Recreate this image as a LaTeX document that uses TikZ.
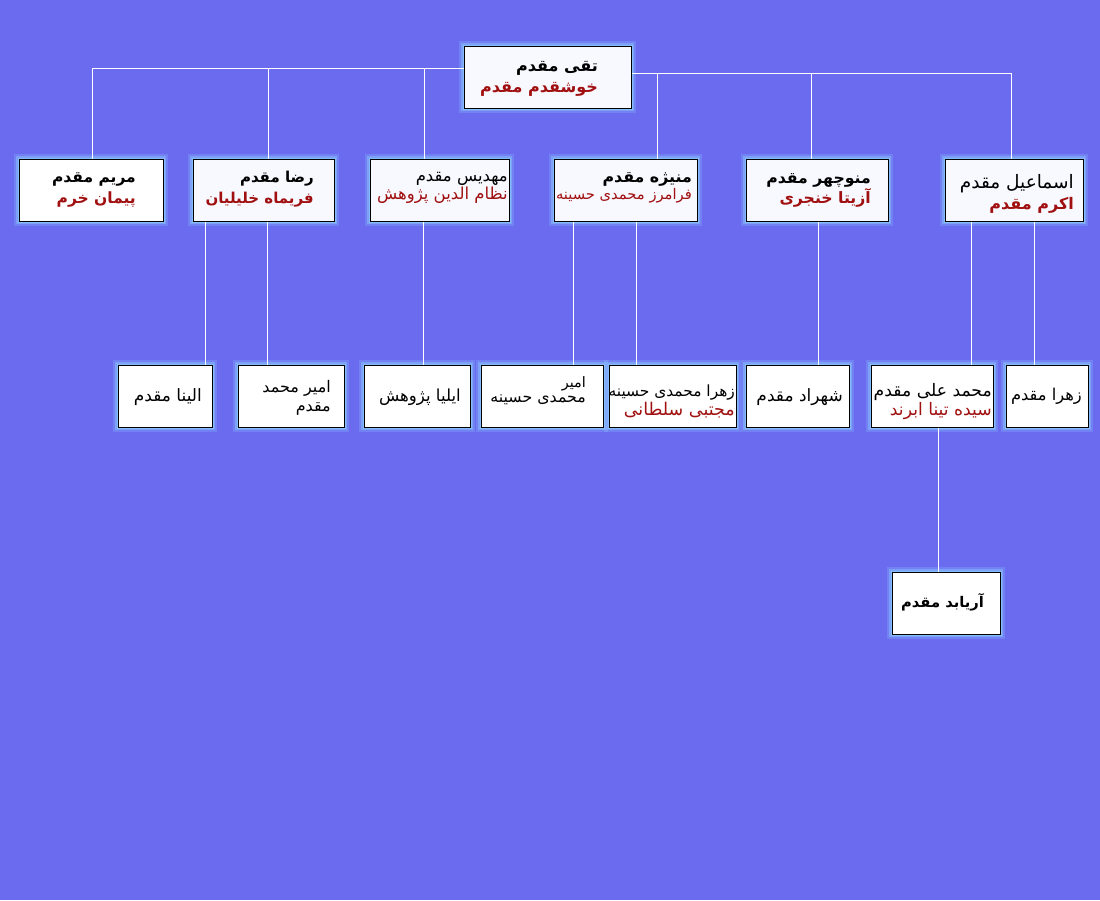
\documentclass[tikz,border=0pt]{standalone}
\usepackage{fontspec}
\TeXXeTstate=1
\newfontfamily\arabicfont[Script=Arabic]{DejaVu Sans}
\definecolor{bg}{RGB}{107,107,240}
\definecolor{ghost}{RGB}{248,248,255}
\definecolor{namered}{RGB}{160,16,16}
\definecolor{glowc}{RGB}{140,200,255}
\newcommand\ar[1]{\beginR #1\endR}
\newcommand\fs[2]{\fontsize{#1}{#2}\selectfont}
\newcommand\pb[6]{\node[pbox=#6, minimum width={#4-#2}, minimum height={#5-#3}] (#1) at ({(#2+#4)/2},{(#3+#5)/2}) {};}
\tikzset{
  pbox/.style={draw=black, line width=1pt, fill=#1, inner sep=0pt,
    preaction={draw=glowc, line width=10pt, opacity=.25},
    preaction={draw=glowc, line width=6pt, opacity=.45},
    preaction={draw=glowc, line width=3pt, opacity=.7}},
  txt/.style={anchor=east, inner sep=0pt, align=right, text=black},
  conn/.style={draw=white, line width=0.8pt},
}
\begin{document}
\begin{tikzpicture}[x=1pt,y=-1pt]
\fill[bg] (0,0) rectangle (1100,900);
\useasboundingbox (0,0) rectangle (1100,900);
% boxes
\pb{root}{464}{46}{631}{108}{ghost}
\pb{maryam}{19}{159}{163}{221}{white}
\pb{reza}{193}{159}{334}{221}{ghost}
\pb{mahdis}{370}{159}{509}{221}{ghost}
\pb{manijeh}{554}{159}{697}{221}{ghost}
\pb{manoo}{746}{159}{888}{221}{ghost}
\pb{esmail}{945}{159}{1083}{221}{ghost}
\pb{elina}{118}{365}{212}{427}{white}
\pb{amirm}{238}{365}{344}{427}{white}
\pb{ilya}{364}{365}{470}{427}{white}
\pb{amirh}{481}{365}{603}{427}{white}
\pb{zahrah}{609}{365}{736}{427}{white}
\pb{shahrad}{746}{365}{849}{427}{white}
\pb{mali}{871}{365}{993}{427}{white}
\pb{zahram}{1006}{365}{1088}{427}{white}
\pb{ariabod}{892}{572}{1000}{634}{white}
% connectors
\draw[conn] ([yshift=9pt]root.west) coordinate (rl) -| ([xshift=74pt]maryam.north west);
\draw[conn] ([xshift=76pt]reza.north west) -- ([xshift=76pt]reza.north west |- rl);
\draw[conn] ([xshift=55pt]mahdis.north west) -- ([xshift=55pt]mahdis.north west |- rl);
\draw[conn] ([yshift=4pt]root.east) coordinate (rr) -| ([xshift=67pt]esmail.north west);
\draw[conn] ([xshift=104pt]manijeh.north west) -- ([xshift=104pt]manijeh.north west |- rr);
\draw[conn] ([xshift=66pt]manoo.north west) -- ([xshift=66pt]manoo.north west |- rr);
\draw[conn] ([xshift=13pt]reza.south west) -- ([xshift=13pt]reza.south west |- elina.north);
\draw[conn] ([xshift=75pt]reza.south west) -- ([xshift=75pt]reza.south west |- amirm.north);
\draw[conn] ([xshift=54pt]mahdis.south west) -- ([xshift=54pt]mahdis.south west |- ilya.north);
\draw[conn] ([xshift=20pt]manijeh.south west) -- ([xshift=20pt]manijeh.south west |- amirh.north);
\draw[conn] ([xshift=83pt]manijeh.south west) -- ([xshift=83pt]manijeh.south west |- zahrah.north);
\draw[conn] ([xshift=73pt]manoo.south west) -- ([xshift=73pt]manoo.south west |- shahrad.north);
\draw[conn] ([xshift=27pt]esmail.south west) -- ([xshift=27pt]esmail.south west |- mali.north);
\draw[conn] ([xshift=90pt]esmail.south west) -- ([xshift=90pt]esmail.south west |- zahram.north);
\draw[conn] ([xshift=68pt]mali.south west) -- ([xshift=68pt]mali.south west |- ariabod.north);
% texts
\node[txt, font=\arabicfont\fs{16}{21}] (rootT) at (598,79) {{\bfseries\ar{تقی مقدم}}\\{\bfseries\color{namered}\ar{خوشقدم مقدم}}};
\node[txt, font=\arabicfont\fs{15.5}{21}] (maryamT) at (136,189.5) {{\bfseries\ar{مریم مقدم}}\\{\bfseries\color{namered}\ar{پیمان خرم}}};
\node[txt, font=\arabicfont\fs{15}{21}] (rezaT) at (314,189.5) {{\bfseries\ar{رضا مقدم}}\\{\bfseries\color{namered}\ar{فریماه خلیلیان}}};
\node[txt, font=\arabicfont\fs{16.5}{18}] (mahdisT) at (508,187.5) {\ar{مهدیس مقدم}\\{\color{namered}\ar{نظام الدین پژوهش}}};
\node[txt, font=\arabicfont\fs{15.8}{17}] (manijehT) at (692,187.5) {{\bfseries\ar{منیژه مقدم}}\\{\fs{14.7}{17}\color{namered}\ar{فرامرز محمدی حسینه}}};
\node[txt, font=\arabicfont\fs{15.7}{20}] (manooT) at (871,190.5) {{\bfseries\ar{منوچهر مقدم}}\\{\bfseries\color{namered}\ar{آزیتا خنجری}}};
\node[txt, font=\arabicfont\fs{18.5}{21}] (esmailT) at (1074,194) {\ar{اسماعیل مقدم}\\{\fs{16}{21}\bfseries\color{namered}\ar{اکرم مقدم}}};
\node[txt, font=\arabicfont\fs{17}{19}] (elinaT) at (202,397.5) {\ar{الینا مقدم}};
\node[txt, font=\arabicfont\fs{16}{19}] (amirmT) at (331,398) {\ar{امیر محمد}\\\ar{مقدم}};
\node[txt, font=\arabicfont\fs{16.6}{19}] (ilyaT) at (461,397.5) {\ar{ایلیا پژوهش}};
\node[txt, font=\arabicfont\fs{15.8}{15}] (amirhT) at (586,391) {{\fs{14.4}{15}\ar{امیر}}\\\ar{محمدی حسینه}};
\node[txt, font=\arabicfont\fs{15.4}{19}] (zahrahT) at (735,401) {\ar{زهرا محمدی حسینه}\\{\fs{17.5}{19}\color{namered}\ar{مجتبی سلطانی}}};
\node[txt, font=\arabicfont\fs{17}{19}] (shahradT) at (843,397.5) {\ar{شهراد مقدم}};
\node[txt, font=\arabicfont\fs{17.2}{19}] (maliT) at (992,402) {\ar{محمد علی مقدم}\\{\color{namered}\ar{سیده تینا ابرند}}};
\node[txt, font=\arabicfont\fs{16.3}{19}] (zahramT) at (1082,396.5) {\ar{زهرا مقدم}};
\node[txt, font=\arabicfont\fs{14.7}{19}] (ariabodT) at (984,602.5) {\bfseries\ar{آریابد مقدم}};
\end{tikzpicture}
\end{document}
